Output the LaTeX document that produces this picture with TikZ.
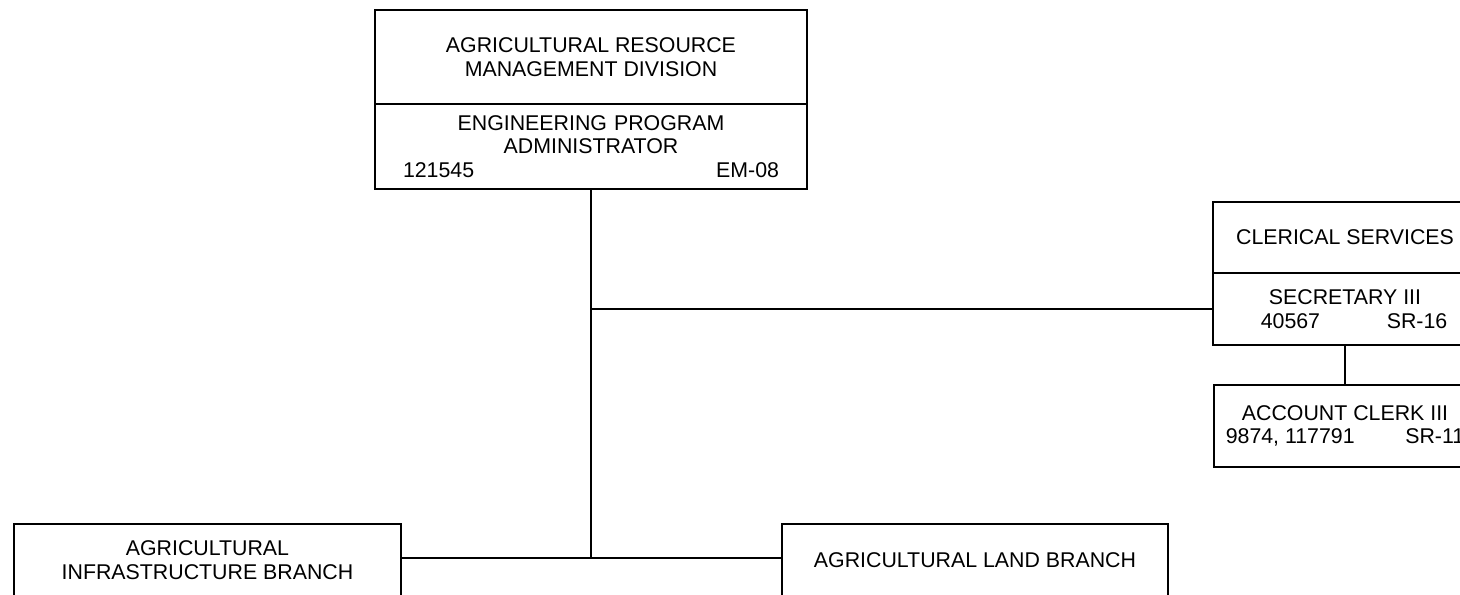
\documentclass[tikz,border=0pt]{standalone}
\usepackage{fontspec}
\setmainfont{Liberation Sans}
\usetikzlibrary{positioning}

\tikzset{
    orgbox/.style={draw, line width=1pt, outer sep=0pt, inner sep=0pt, align=center, font=\fontsize{16}{17.5}\selectfont},
    orgline/.style={line width=1pt}
}

\begin{document}
\begin{tikzpicture}[x=0.75pt, y=-0.75pt]
    \useasboundingbox (0,0) rectangle (1460,594);
    \clip (0,0) rectangle (1460,594);

    % Division
    \node [orgbox, minimum width=324pt, minimum height=70.5pt] (armd) at (591,57) {AGRICULTURAL RESOURCE\\MANAGEMENT DIVISION};
    \node [orgbox, minimum width=324pt, minimum height=63.75pt, text width=282pt, below=0pt of armd] (epa) {ENGINEERING PROGRAM\\ADMINISTRATOR\\121545\hfill EM-08};

    % Clerical services
    \node [orgbox, minimum width=198pt, minimum height=53.25pt] (cler) at (1345,237.5) {CLERICAL SERVICES};
    \node [orgbox, minimum width=198pt, minimum height=54pt, below=0pt of cler] (sec) {SECRETARY III\\\hspace*{13.5pt}40567\hspace{50pt}SR-16};
    \node [orgbox, minimum width=196.5pt, minimum height=61.5pt] (clerk) at (1345,426) {ACCOUNT CLERK III\\9874, 117791\hspace{38pt}SR-11};

    % Branches
    \node [orgbox, minimum width=290.25pt, minimum height=54pt] (infra) at (207.5,560) {AGRICULTURAL\\INFRASTRUCTURE BRANCH};
    \node [orgbox, minimum width=289.5pt, minimum height=54pt] (land) at (975,560) {AGRICULTURAL LAND BRANCH};

    \coordinate (jn) at (591,558);

    \draw [orgline] (epa.south) -- (jn);
    \draw [orgline] (epa.south |- sec.west) -- (sec.west);
    \draw [orgline] (sec.south) -- (clerk.north);
    \draw [orgline] (infra.east |- jn) -- (land.west |- jn);
\end{tikzpicture}
\end{document}
